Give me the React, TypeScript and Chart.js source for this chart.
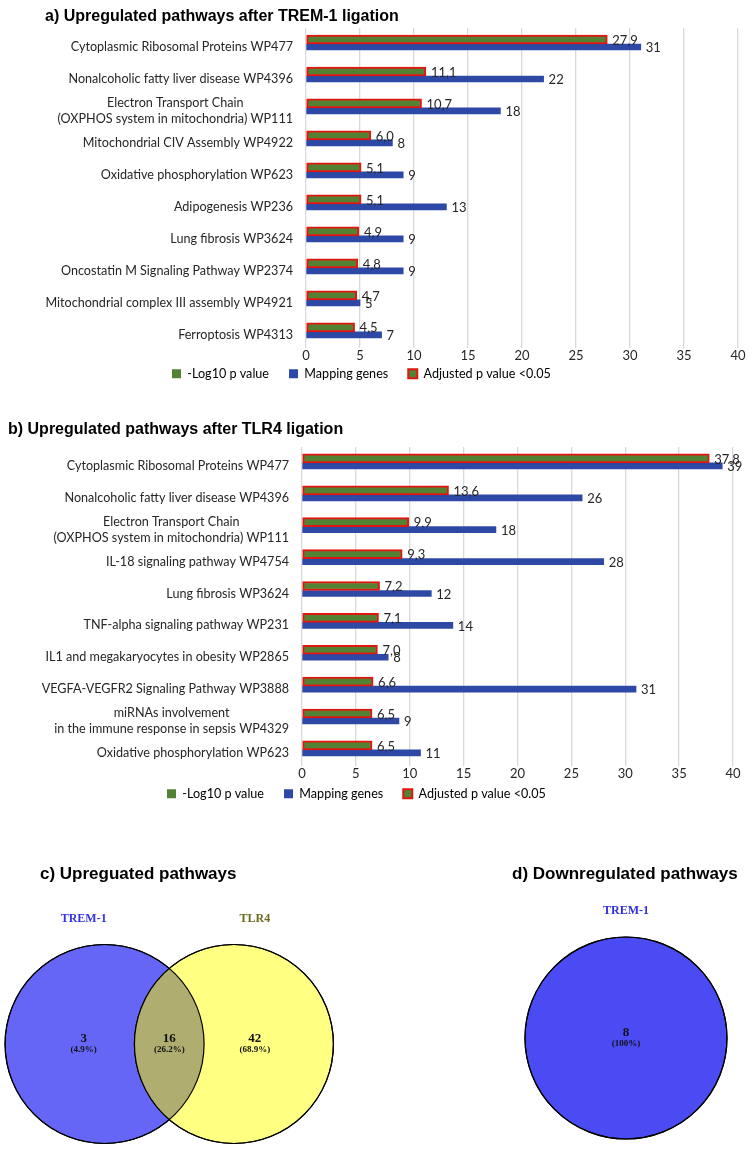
import React, { useEffect, useRef } from "react";
import { Chart, registerables } from "chart.js";

Chart.register(...registerables);

// ---- Panel a: pathways enriched after TREM-1 ligation ----
const tremPathways: string[][] = [
  ["Cytoplasmic Ribosomal Proteins WP477"],
  ["Nonalcoholic fatty liver disease WP4396"],
  ["Electron Transport Chain", "(OXPHOS system in mitochondria) WP111"],
  ["Mitochondrial CIV Assembly WP4922"],
  ["Oxidative phosphorylation WP623"],
  ["Adipogenesis WP236"],
  ["Lung fibrosis WP3624"],
  ["Oncostatin M Signaling Pathway WP2374"],
  ["Mitochondrial complex III assembly WP4921"],
  ["Ferroptosis WP4313"],
];
const tremLog10P = [27.9, 11.1, 10.7, 6.0, 5.1, 5.1, 4.9, 4.8, 4.7, 4.5];
const tremGenes = [31, 22, 18, 8, 9, 13, 9, 9, 5, 7];

// ---- Panel b: pathways enriched after TLR4 ligation ----
const tlr4Pathways: string[][] = [
  ["Cytoplasmic Ribosomal Proteins WP477"],
  ["Nonalcoholic fatty liver disease WP4396"],
  ["Electron Transport Chain", "(OXPHOS system in mitochondria) WP111"],
  ["IL-18 signaling pathway WP4754"],
  ["Lung fibrosis WP3624"],
  ["TNF-alpha signaling pathway WP231"],
  ["IL1 and megakaryocytes in obesity WP2865"],
  ["VEGFA-VEGFR2 Signaling Pathway WP3888"],
  ["miRNAs involvement", "in the immune response in sepsis WP4329"],
  ["Oxidative phosphorylation WP623"],
];
const tlr4Log10P = [37.8, 13.6, 9.9, 9.3, 7.2, 7.1, 7.0, 6.6, 6.5, 6.5];
const tlr4Genes = [39, 26, 18, 28, 12, 14, 8, 31, 9, 11];

// Shared value axis
const xAxisMin = 0;
const xAxisMax = 40;
const xAxisStep = 5;
const legendLabels = ["-Log10 p value", "Mapping genes", "Adjusted p value <0.05"];

// ---- Panels c & d: Venn counts ----
const upregulatedSets = ["TREM-1", "TLR4"];
const upregulatedCounts = [3, 16, 42]; // TREM-1 only, shared, TLR4 only
const downregulatedSets = ["TREM-1"];
const downregulatedCounts = [8];

const GREEN = "#548235";
const RED = "#E3160F";
const BLUE = "#2E48A6";
const GRID = "#D9D9D9";
const TEXT = "#262626";
const LABEL_FONT = "Lato";
const LABEL_SIZE = 12.6;
const VALUE_SIZE = 13;

const fmtComma = (v: number) => v.toFixed(1).replace(".", ",");

// Category names on the left, each block right-aligned with its lines centred
const categoryLabelPlugin = {
  id: "categoryLabels",
  afterDraw(chart: any) {
    const { ctx, chartArea } = chart;
    const yScale = chart.scales.y;
    const labels: string[][] = chart.data.labels;
    const right = chartArea.left - 13;
    const lineH = 16;
    ctx.save();
    ctx.font = `${LABEL_SIZE}px ${LABEL_FONT}`;
    ctx.fillStyle = TEXT;
    ctx.textAlign = "center";
    ctx.textBaseline = "middle";
    labels.forEach((lines, i) => {
      const w = Math.max(...lines.map((l) => ctx.measureText(l).width));
      const cx = right - w / 2;
      const cy = yScale.getPixelForTick(i) + 3;
      const y0 = cy - ((lines.length - 1) * lineH) / 2;
      lines.forEach((l, k) => ctx.fillText(l, cx, y0 + k * lineH));
    });
    ctx.restore();
  },
};

// Numbers printed at the end of each bar
const valueLabelPlugin = {
  id: "valueLabels",
  afterDatasetsDraw(chart: any) {
    const { ctx } = chart;
    ctx.save();
    ctx.font = `${VALUE_SIZE}px ${LABEL_FONT}`;
    ctx.fillStyle = TEXT;
    ctx.textAlign = "left";
    ctx.textBaseline = "middle";
    chart.data.datasets.forEach((ds: any, di: number) => {
      const meta = chart.getDatasetMeta(di);
      meta.data.forEach((bar: any, i: number) => {
        const v = ds.data[i];
        const txt = di === 0 ? fmtComma(v) : String(v);
        ctx.fillText(txt, bar.x + 5, bar.y + 1);
      });
    });
    ctx.restore();
  },
};

// Pulls the legend row up closer to the axis labels
const legendShiftPlugin = {
  id: "legendShift",
  afterLayout(chart: any, _args: any, opts: any) {
    const lg = chart.legend;
    if (lg && opts && opts.dy) {
      lg.top += opts.dy;
      lg.bottom += opts.dy;
    }
  },
};

type BarPanelProps = {
  labels: string[][];
  log10p: number[];
  genes: number[];
  left: number;
  top: number;
  width: number;
  height: number;
  padTop: number;
  padLeft: number;
  padRight: number;
  axisWidth: number;
  legendDy: number;
};

function BarPanel(p: BarPanelProps) {
  const ref = useRef<HTMLCanvasElement>(null);
  useEffect(() => {
    const chart = new Chart(ref.current as HTMLCanvasElement, {
      type: "bar",
      data: {
        labels: p.labels as any,
        datasets: [
          {
            label: legendLabels[0],
            data: p.log10p,
            backgroundColor: GREEN,
            borderColor: RED,
            borderWidth: 2,
            borderSkipped: false,
            barThickness: 9,
          },
          {
            label: legendLabels[1],
            data: p.genes,
            backgroundColor: BLUE,
            borderWidth: 0,
            barThickness: 6,
          },
        ],
      },
      options: {
        indexAxis: "y",
        responsive: false,
        animation: false,
        events: [],
        layout: { padding: { top: p.padTop, left: p.padLeft, right: p.padRight, bottom: 0 } },
        scales: {
          x: {
            min: xAxisMin,
            max: xAxisMax,
            ticks: {
              stepSize: xAxisStep,
              padding: 0,
              maxRotation: 0,
              color: TEXT,
              font: { family: LABEL_FONT, size: VALUE_SIZE },
            },
            grid: { color: GRID, lineWidth: 1.3, drawTicks: false },
            border: { display: false },
          },
          y: {
            ticks: { display: false },
            grid: { display: false },
            border: { display: false },
            afterFit: (s: any) => {
              s.width = p.axisWidth;
            },
          },
        },
        plugins: {
          title: { display: false },
          tooltip: { enabled: false },
          legendShift: { dy: p.legendDy },
          legend: {
            position: "bottom",
            align: "start",
            labels: {
              boxWidth: 9,
              boxHeight: 9,
              padding: 20,
              color: TEXT,
              font: { family: LABEL_FONT, size: LABEL_SIZE },
              generateLabels: () => [
                { text: legendLabels[0], fillStyle: GREEN, strokeStyle: GREEN, lineWidth: 0, hidden: false, datasetIndex: 0 },
                { text: legendLabels[1], fillStyle: BLUE, strokeStyle: BLUE, lineWidth: 0, hidden: false, datasetIndex: 1 },
                { text: legendLabels[2], fillStyle: GREEN, strokeStyle: RED, lineWidth: 2, hidden: false, datasetIndex: 0 },
              ],
            },
          },
        },
      } as any,
      plugins: [categoryLabelPlugin, valueLabelPlugin, legendShiftPlugin],
    });
    return () => chart.destroy();
  }, []);
  return (
    <canvas
      ref={ref}
      width={p.width}
      height={p.height}
      style={{ position: "absolute", left: p.left, top: p.top, width: p.width, height: p.height }}
    />
  );
}

// ---- Venn diagrams ----
const CIRCLE_R = 1; // circle radius in data units
const CIRCLE_SEP = 1.3; // distance between the two set centres
const REGION_SHIFT = 0.21; // outer-region labels sit slightly off-centre
const SET_LABEL_RISE = 1.26;

const vennPlugin = {
  id: "vennOverlay",
  afterDatasetsDraw(chart: any) {
    const { ctx } = chart;
    const xs = chart.scales.x;
    const ys = chart.scales.y;
    const cfg = chart.options.plugins.vennOverlay;
    const R = xs.getPixelForValue(CIRCLE_R) - xs.getPixelForValue(0);
    const pts = chart.data.datasets[0].data.map((d: any) => ({
      x: xs.getPixelForValue(d.x),
      y: ys.getPixelForValue(d.y),
      dx: d.x,
    }));
    ctx.save();
    if (pts.length === 2) {
      ctx.save();
      ctx.beginPath();
      ctx.arc(pts[0].x, pts[0].y, R, 0, Math.PI * 2);
      ctx.clip();
      ctx.beginPath();
      ctx.arc(pts[1].x, pts[1].y, R, 0, Math.PI * 2);
      ctx.fillStyle = cfg.overlapColor;
      ctx.fill();
      ctx.restore();
    }
    ctx.strokeStyle = "#000";
    ctx.lineWidth = 1.2;
    pts.forEach((c: any) => {
      ctx.beginPath();
      ctx.arc(c.x, c.y, R, 0, Math.PI * 2);
      ctx.stroke();
    });

    const sets: string[] = cfg.sets;
    const counts: number[] = cfg.counts;
    const total = counts.reduce((a, b) => a + b, 0);
    const regionX: number[] =
      pts.length === 2
        ? [pts[0].dx - REGION_SHIFT, (pts[0].dx + pts[1].dx) / 2, pts[1].dx + REGION_SHIFT]
        : [pts[0].dx];
    const setX: number[] =
      pts.length === 2 ? [pts[0].dx - REGION_SHIFT, pts[1].dx + REGION_SHIFT] : [pts[0].dx];
    ctx.textAlign = "center";
    ctx.textBaseline = "middle";

    // set names above the circles
    ctx.font = "bold 12px 'Liberation Serif', serif";
    sets.forEach((name, i) => {
      ctx.fillStyle = cfg.labelColors[i];
      ctx.fillText(name, xs.getPixelForValue(setX[i]), ys.getPixelForValue(SET_LABEL_RISE));
    });

    // region counts and shares
    const cy = ys.getPixelForValue(0);
    counts.forEach((n, i) => {
      const px = xs.getPixelForValue(regionX[i]);
      const pct = (n / total) * 100;
      const pctTxt = Number.isInteger(pct) ? `${pct}%` : `${pct.toFixed(1)}%`;
      ctx.fillStyle = "#111";
      ctx.font = "bold 13px 'Liberation Serif', serif";
      ctx.fillText(String(n), px, cy - 5);
      ctx.font = "bold 9px 'Liberation Serif', serif";
      ctx.fillText(`(${pctTxt})`, px, cy + 6);
    });
    ctx.restore();
  },
};

type VennProps = {
  sets: string[];
  counts: number[];
  fills: string[];
  overlapColor?: string;
  labelColors: string[];
  left: number;
  top: number;
  width: number;
  height: number;
  xRange: [number, number];
  yRange: [number, number];
};

function VennPanel(p: VennProps) {
  const ref = useRef<HTMLCanvasElement>(null);
  useEffect(() => {
    const centers =
      p.sets.length === 2
        ? [
            { x: -CIRCLE_SEP / 2, y: 0 },
            { x: CIRCLE_SEP / 2, y: 0 },
          ]
        : [{ x: 0, y: 0 }];
    const chart = new Chart(ref.current as HTMLCanvasElement, {
      type: "scatter",
      data: {
        datasets: [
          {
            data: centers,
            showLine: false,
            clip: false,
            pointBackgroundColor: p.fills,
            pointBorderColor: "#000",
            pointBorderWidth: 1.2,
            pointRadius: (c: any) => {
              const s = c.chart.scales.x;
              return s.getPixelForValue(CIRCLE_R) - s.getPixelForValue(0);
            },
          } as any,
        ],
      },
      options: {
        responsive: false,
        animation: false,
        events: [],
        layout: { padding: 0 },
        scales: {
          x: { type: "linear", min: p.xRange[0], max: p.xRange[1], display: false },
          y: { type: "linear", min: p.yRange[0], max: p.yRange[1], display: false },
        },
        plugins: {
          legend: { display: false },
          tooltip: { enabled: false },
          vennOverlay: {
            sets: p.sets,
            counts: p.counts,
            overlapColor: p.overlapColor,
            labelColors: p.labelColors,
          },
        },
      } as any,
      plugins: [vennPlugin],
    });
    return () => chart.destroy();
  }, []);
  return (
    <canvas
      ref={ref}
      width={p.width}
      height={p.height}
      style={{ position: "absolute", left: p.left, top: p.top, width: p.width, height: p.height }}
    />
  );
}

const titleStyle = (left: number, top: number, size: number): React.CSSProperties => ({
  position: "absolute",
  left,
  top,
  margin: 0,
  fontFamily: "'Liberation Sans', Arial, sans-serif",
  fontWeight: "bold",
  fontSize: size,
  lineHeight: `${size + 4}px`,
  color: "#000",
  whiteSpace: "nowrap",
});

export default function App() {
  return (
    <div style={{ position: "absolute", left: 0, top: 0, width: 749, height: 1155, background: "#fff", overflow: "hidden" }}>
      <BarPanel
        labels={tremPathways}
        log10p={tremLog10P}
        genes={tremGenes}
        left={0}
        top={0}
        width={749}
        height={406}
        padTop={28}
        padLeft={152}
        padRight={11}
        axisWidth={154}
        legendDy={-16}
      />
      <BarPanel
        labels={tlr4Pathways}
        log10p={tlr4Log10P}
        genes={tlr4Genes}
        left={0}
        top={415}
        width={749}
        height={409}
        padTop={32}
        padLeft={147}
        padRight={16}
        axisWidth={155}
        legendDy={-14}
      />
      <VennPanel
        sets={upregulatedSets}
        counts={upregulatedCounts}
        fills={["#6666F6", "#FFFF82"]}
        overlapColor="#AFAD70"
        labelColors={["#3232E6", "#6B6B1E"]}
        left={0}
        top={850}
        width={340}
        height={305}
        xRange={[-1.701, 1.716]}
        yRange={[-1.116, 1.95]}
      />
      <VennPanel
        sets={downregulatedSets}
        counts={downregulatedCounts}
        fills={["#4B4BF4"]}
        labelColors={["#2F2FE0"]}
        left={375}
        top={850}
        width={374}
        height={305}
        xRange={[-2.485, 1.218]}
        yRange={[-1.158, 1.861]}
      />
      <div style={titleStyle(45, 6, 16)}>a) Upregulated pathways after TREM-1 ligation</div>
      <div style={titleStyle(8, 419, 16)}>b) Upregulated pathways after TLR4 ligation</div>
      <div style={titleStyle(40, 863, 17)}>c) Upreguated pathways</div>
      <div style={titleStyle(512, 863, 17)}>d) Downregulated pathways</div>
    </div>
  );
}
